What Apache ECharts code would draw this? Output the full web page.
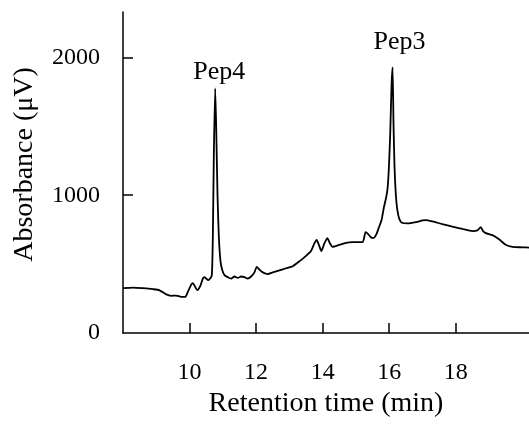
<!DOCTYPE html>
<html>
<head>
<meta charset="utf-8">
<script src="https://cdn.jsdelivr.net/npm/echarts@6/dist/echarts.min.js"></script>
<style>
html,body{margin:0;padding:0;background:#fff}
#chart{width:529px;height:429px}
</style>
</head>
<body>
<div id="chart"></div>
<script>
// retention time (min)
var times = [8.0, 8.3, 8.6, 8.9, 9.1, 9.3, 9.45, 9.6, 9.75, 9.87, 9.95, 10.05, 10.1, 10.17, 10.23, 10.32, 10.4, 10.44, 10.5, 10.56, 10.62, 10.67,
	10.7, 10.73, 10.77, 10.8, 10.84, 10.88, 10.93, 10.98, 11.05, 11.15, 11.25, 11.35, 11.45, 11.55, 11.65, 11.75, 11.85, 11.95, 12.02, 12.1,
	12.2, 12.35, 12.5, 12.7, 12.9, 13.1, 13.3, 13.5, 13.65, 13.75, 13.82, 13.9, 13.96, 14.05, 14.14, 14.22, 14.3, 14.5, 14.7, 14.9, 15.2,
	15.29, 15.36, 15.45, 15.53, 15.62, 15.68, 15.77, 15.84, 15.9, 15.95, 15.99, 16.03, 16.07, 16.1, 16.13, 16.16, 16.2, 16.24, 16.3, 16.38,
	16.55, 16.7, 16.85, 17.0, 17.1, 17.3, 17.6, 17.9, 18.2, 18.5, 18.65, 18.75, 18.82, 18.9, 19.1, 19.3, 19.5, 19.7, 20.0, 20.2]
// absorbance (uV)
var absorb = [326, 330, 325, 318, 310, 280, 270, 272, 262, 262, 300, 350, 362, 335, 311, 340, 395, 406, 395, 384, 395, 420,
	700, 1300, 1775, 1500, 1000, 700, 520, 460, 420, 405, 395, 410, 400, 410, 405, 395, 410, 440, 480, 460,
	440, 428, 440, 455, 470, 485, 520, 560, 595, 650, 675, 630, 595, 650, 688, 650, 625, 640, 655, 660, 660,
	732, 720, 695, 690, 720, 760, 820, 913, 975, 1050, 1200, 1450, 1800, 1928, 1500, 1200, 1000, 900, 830, 800,
	795, 800, 806, 818, 820, 810, 790, 772, 755, 740, 745, 768, 740, 725, 710, 680, 640, 625, 622, 620]

var peakNames = ['Pep4', 'Pep3']
var peakTimes = [10.77, 16.1]
var peakValues = [1775, 1928]

var xTicks = [10, 12, 14, 16, 18]
var yTicks = [1000, 2000]
var yLabels = [0, 1000, 2000]

var font = 'Liberation Serif'
var seriesData = times.map(function (t, i) { return [t, absorb[i]] })

var chart = echarts.init(document.getElementById('chart'))
chart.setOption({
	animation: false,
	backgroundColor: '#fff',
	grid: { left: 123, right: 0, top: 12, bottom: 96, containLabel: false },
	xAxis: {
		type: 'value', min: 8, max: 20.2,
		name: 'Retention time (min)', nameLocation: 'middle', nameGap: 57,
		nameTextStyle: { fontFamily: font, fontSize: 28, color: '#000' },
		axisLine: { lineStyle: { color: '#000', width: 1.5 } },
		axisTick: { inside: true, length: 10, customValues: xTicks, lineStyle: { color: '#000', width: 1.5 } },
		axisLabel: { customValues: xTicks, margin: 28, fontFamily: font, fontSize: 24, color: '#000' },
		splitLine: { show: false }
	},
	yAxis: {
		type: 'value', min: 0, max: 2330,
		name: 'Absorbance (μV)', nameLocation: 'middle', nameRotate: 90, nameGap: 84,
		nameTextStyle: { fontFamily: font, fontSize: 28, color: '#000', padding: [0, 0, 0, 16] },
		axisLine: { show: true, lineStyle: { color: '#000', width: 1.5 } },
		axisTick: { show: true, inside: true, length: 10, customValues: yTicks, lineStyle: { color: '#000', width: 1.5 } },
		axisLabel: { customValues: yLabels, margin: 23, fontFamily: font, fontSize: 24, color: '#000', formatter: function (v) { return String(v) } },
		splitLine: { show: false }
	},
	series: [{
		type: 'line',
		data: seriesData,
		showSymbol: false,
		smooth: 0.2,
		lineStyle: { color: '#000', width: 1.8 },
		markPoint: {
			symbol: 'circle', symbolSize: 0,
			label: { show: true, fontFamily: font, fontSize: 26, color: '#000', formatter: '{b}' },
			data: peakNames.map(function (n, i) {
				return { name: n, coord: [peakTimes[i], peakValues[i]], label: { offset: i === 0 ? [4, -16] : [7, -25] } }
			})
		}
	}]
})
</script>
</body>
</html>
